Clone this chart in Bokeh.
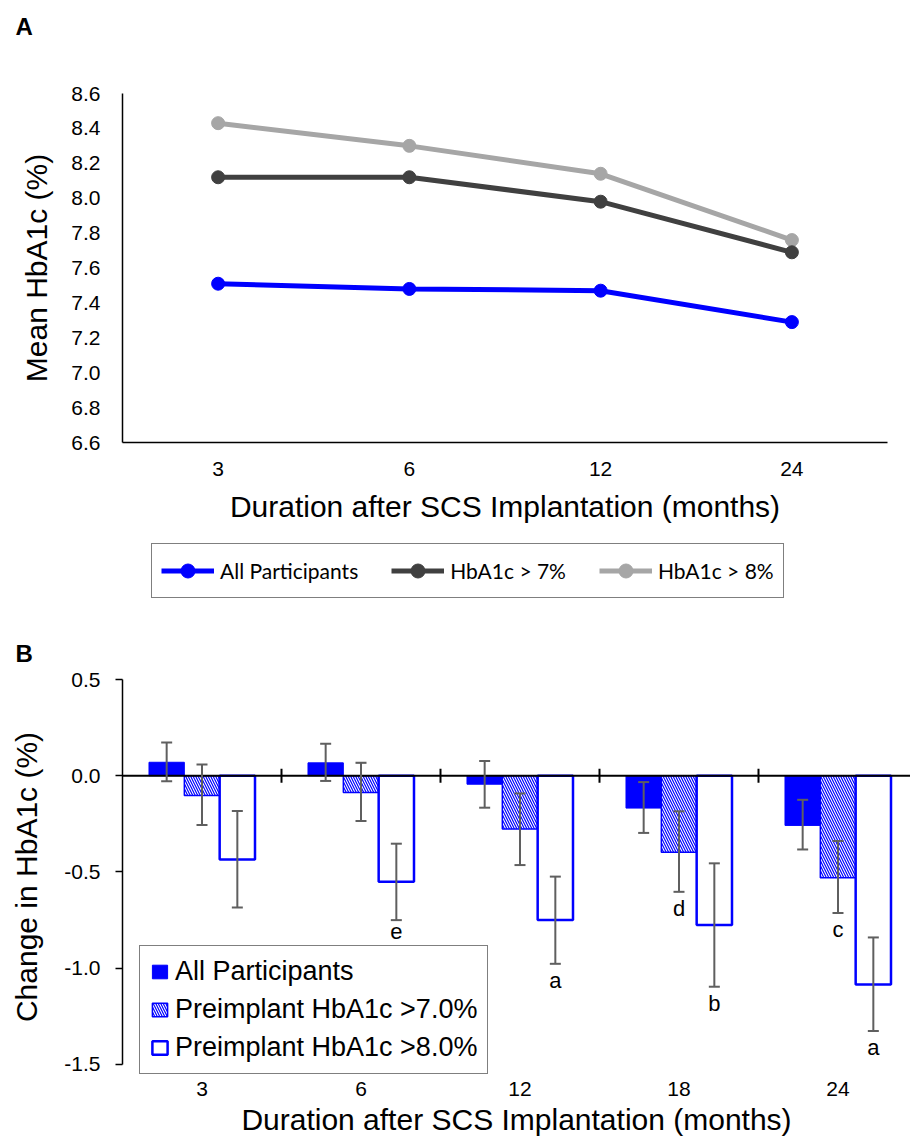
import numpy as np
from bokeh.plotting import figure
from bokeh.layouts import column
from bokeh.models import (ColumnDataSource, Legend, LegendItem, Whisker, TeeHead, Span,
                          FixedTicker, Range1d, FactorRange, NumeralTickFormatter, Title)
from bokeh.embed import file_html
from bokeh.resources import INLINE
from bokeh.core.properties import value

# ---------------- data ----------------
months_a = ["3", "6", "12", "24"]
all_mean = [7.51, 7.48, 7.47, 7.29]
gt7_mean = [8.12, 8.12, 7.98, 7.69]
gt8_mean = [8.43, 8.30, 8.14, 7.76]
y_ticks_a = [6.6, 6.8, 7.0, 7.2, 7.4, 7.6, 7.8, 8.0, 8.2, 8.4, 8.6]

months_b = ["3", "6", "12", "18", "24"]
all_change = [0.070, 0.067, -0.044, -0.168, -0.258]
all_lo = [-0.029, -0.027, -0.166, -0.297, -0.383]
all_hi = [0.173, 0.166, 0.077, -0.033, -0.125]
gt7_change = [-0.102, -0.087, -0.276, -0.397, -0.530]
gt7_lo = [-0.256, -0.235, -0.464, -0.603, -0.713]
gt7_hi = [0.058, 0.067, -0.092, -0.185, -0.339]
gt8_change = [-0.435, -0.551, -0.750, -0.776, -1.085]
gt8_lo = [-0.684, -0.750, -0.977, -1.096, -1.326]
gt8_hi = [-0.183, -0.353, -0.524, -0.455, -0.840]
gt7_letters = ["", "", "", "d", "c"]
gt8_letters = ["", "e", "a", "b", "a"]
y_ticks_b = [-1.5, -1.0, -0.5, 0.0, 0.5]

# ---------------- style ----------------
FONT = "Liberation Sans"
BLUE = "#0000FF"
DARK = "#404040"
LIGHT = "#A6A6A6"
ERR = "#5F5F5F"


def panel_letter(p, letter, standoff):
    t = Title(text=letter, align="left", offset=-107, standoff=standoff,
              text_font=FONT, text_font_size="24px", text_font_style="bold",
              text_color="black")
    p.add_layout(t, "above")


series_a = [("All Participants", all_mean, BLUE),
            ("HbA1c > 7%", gt7_mean, DARK),
            ("HbA1c > 8%", gt8_mean, LIGHT)]

# ================= Panel A =================
pa = figure(x_range=FactorRange(factors=months_a, range_padding=0),
            y_range=Range1d(6.6, 8.6),
            frame_width=765, frame_height=349,
            min_border_left=122, min_border_right=23, min_border_top=93, min_border_bottom=87,
            output_backend="svg", toolbar_location=None)
pa.outline_line_color = None
pa.grid.visible = False
pa.add_layout(Title(text=" ", text_font_size="10px", standoff=41), "above")
panel_letter(pa, "A", 0)

for label, vals, col in reversed(series_a):
    pa.line(months_a, vals, line_color=col, line_width=5)
    pa.scatter(months_a, vals, size=13, fill_color=col, line_color=col)

for ax in (pa.xaxis[0], pa.yaxis[0]):
    ax.major_tick_line_color = None
    ax.minor_tick_line_color = None
    ax.major_tick_out = 0
    ax.major_tick_in = 0
    ax.axis_line_color = "black"
    ax.axis_line_width = 1.5
    ax.major_label_text_font = FONT
    ax.major_label_text_font_size = "21px"
    ax.major_label_text_color = "black"
    ax.axis_label_text_font = FONT
    ax.axis_label_text_font_size = "30px"
    ax.axis_label_text_font_style = "normal"
    ax.axis_label_text_color = "black"

pa.yaxis.ticker = FixedTicker(ticks=y_ticks_a)
pa.yaxis.formatter = NumeralTickFormatter(format="0.0")
pa.yaxis.major_label_standoff = 22
pa.yaxis.axis_label = "Mean HbA1c (%)"
pa.yaxis.axis_label_standoff = 15
pa.xaxis.major_label_standoff = 19
pa.xaxis.axis_label = "Duration after SCS Implantation (months)"
pa.xaxis.axis_label_standoff = 11

# ============ Legend strip for panel A ============
pl = figure(x_range=FactorRange(factors=months_a), y_range=Range1d(0, 1),
            frame_width=910, frame_height=95,
            min_border_left=0, min_border_right=0, min_border_top=0, min_border_bottom=0,
            x_axis_type=None, y_axis_type=None,
            output_backend="svg", toolbar_location=None)
pl.outline_line_color = None
items_a = []
for label, vals, col in series_a:
    r1 = pl.line(months_a, vals, line_color=col, line_width=5)
    r2 = pl.scatter(months_a, vals, size=11, fill_color=col, line_color=col)
    items_a.append(LegendItem(label=label, renderers=[r1, r2]))
leg_a = Legend(items=items_a, orientation="horizontal", location=(151, 26),
               margin=0, padding=9, spacing=33, glyph_width=53, glyph_height=35,
               label_height=35, label_standoff=6, label_text_font="Lato",
               label_text_font_size="21px", label_text_color="black",
               border_line_color="black", border_line_width=1.5,
               background_fill_color="white", background_fill_alpha=1.0)
pl.add_layout(leg_a)

# ================= Panel B =================
n = len(months_b)
xc = np.arange(n) + 0.5
W = 2 / 9

pb = figure(x_range=Range1d(0, n - 0.044), y_range=Range1d(-1.552, 0.5),
            frame_width=788, frame_height=395,
            min_border_left=122, min_border_right=0, min_border_top=54, min_border_bottom=66,
            output_backend="svg", toolbar_location=None)
pb.outline_line_color = None
pb.grid.visible = False
panel_letter(pb, "B", 26)

b1 = pb.vbar(x=xc - W, top=all_change, bottom=0, width=W,
             fill_color=BLUE, line_color=BLUE, line_width=1)
b2 = pb.vbar(x=xc, top=gt7_change, bottom=0, width=W,
             fill_color="white", line_color=BLUE, line_width=1.5,
             hatch_pattern="left_diagonal_line", hatch_color=BLUE,
             hatch_scale=5, hatch_weight=1.2)
b3 = pb.vbar(x=xc + W, top=gt8_change, bottom=0, width=W,
             fill_color="white", line_color=BLUE, line_width=2.5)

pb.add_layout(Span(location=0, dimension="width", line_color="black", line_width=2))
pb.scatter(x=np.arange(1, n), y=np.zeros(n - 1), marker="dash", angle=np.pi / 2,
           size=14, line_color="black", line_width=2)

err_src = ColumnDataSource(dict(
    x=np.concatenate([xc - W, xc, xc + W]),
    lo=all_lo + gt7_lo + gt8_lo,
    hi=all_hi + gt7_hi + gt8_hi))
pb.add_layout(Whisker(base="x", lower="lo", upper="hi", source=err_src,
                      line_color=ERR, line_width=2, level="overlay",
                      upper_head=TeeHead(size=11, line_color=ERR, line_width=2),
                      lower_head=TeeHead(size=11, line_color=ERR, line_width=2)))

let_src = ColumnDataSource(dict(
    x=np.concatenate([xc, xc + W]),
    y=gt7_lo + gt8_lo,
    t=gt7_letters + gt8_letters))
pb.text(x="x", y="y", text="t", source=let_src, text_align="center",
        text_baseline="top", y_offset=4, text_font=value(FONT),
        text_font_size="22px", text_color="black")

ya = pb.yaxis[0]
ya.ticker = FixedTicker(ticks=y_ticks_b)
ya.formatter = NumeralTickFormatter(format="0.0")
ya.bounds = (y_ticks_b[0], y_ticks_b[-1])
ya.major_tick_out = 7
ya.major_tick_in = 0
ya.major_tick_line_width = 1.5
ya.minor_tick_line_color = None
ya.axis_line_width = 1.5
ya.major_label_standoff = 15
ya.major_label_text_font = FONT
ya.major_label_text_font_size = "21px"
ya.major_label_text_color = "black"
ya.axis_label = "Change in HbA1c (%)"
ya.axis_label_standoff = 18
ya.axis_label_text_font = FONT
ya.axis_label_text_font_size = "30px"
ya.axis_label_text_font_style = "normal"
ya.axis_label_text_color = "black"

xa = pb.xaxis[0]
xa.ticker = FixedTicker(ticks=list(xc))
xa.major_label_overrides = {float(v): m for v, m in zip(xc, months_b)}
xa.axis_line_color = None
xa.major_tick_line_color = None
xa.minor_tick_line_color = None
xa.major_tick_out = 0
xa.major_tick_in = 0
xa.major_label_standoff = 7
xa.major_label_text_font = FONT
xa.major_label_text_font_size = "21px"
xa.major_label_text_color = "black"
xa.axis_label = "Duration after SCS Implantation (months)"
xa.axis_label_standoff = 4
xa.axis_label_text_font = FONT
xa.axis_label_text_font_size = "30px"
xa.axis_label_text_font_style = "normal"
xa.axis_label_text_color = "black"

leg_b = Legend(items=[LegendItem(label="All Participants", renderers=[b1]),
                      LegendItem(label="Preimplant HbA1c >7.0%", renderers=[b2]),
                      LegendItem(label="Preimplant HbA1c >8.0%", renderers=[b3])],
               location=(17, 0), margin=0, padding=10, spacing=7,
               glyph_width=19, glyph_height=17, label_height=30, label_standoff=6,
               label_text_font=FONT, label_text_font_size="27px", label_text_color="black",
               border_line_color="black", border_line_width=1.5,
               background_fill_color="white", background_fill_alpha=1.0)
pb.add_layout(leg_b)

layout = column(pa, pl, pb, spacing=0)
open("out.html", "w").write(file_html(layout, INLINE))
